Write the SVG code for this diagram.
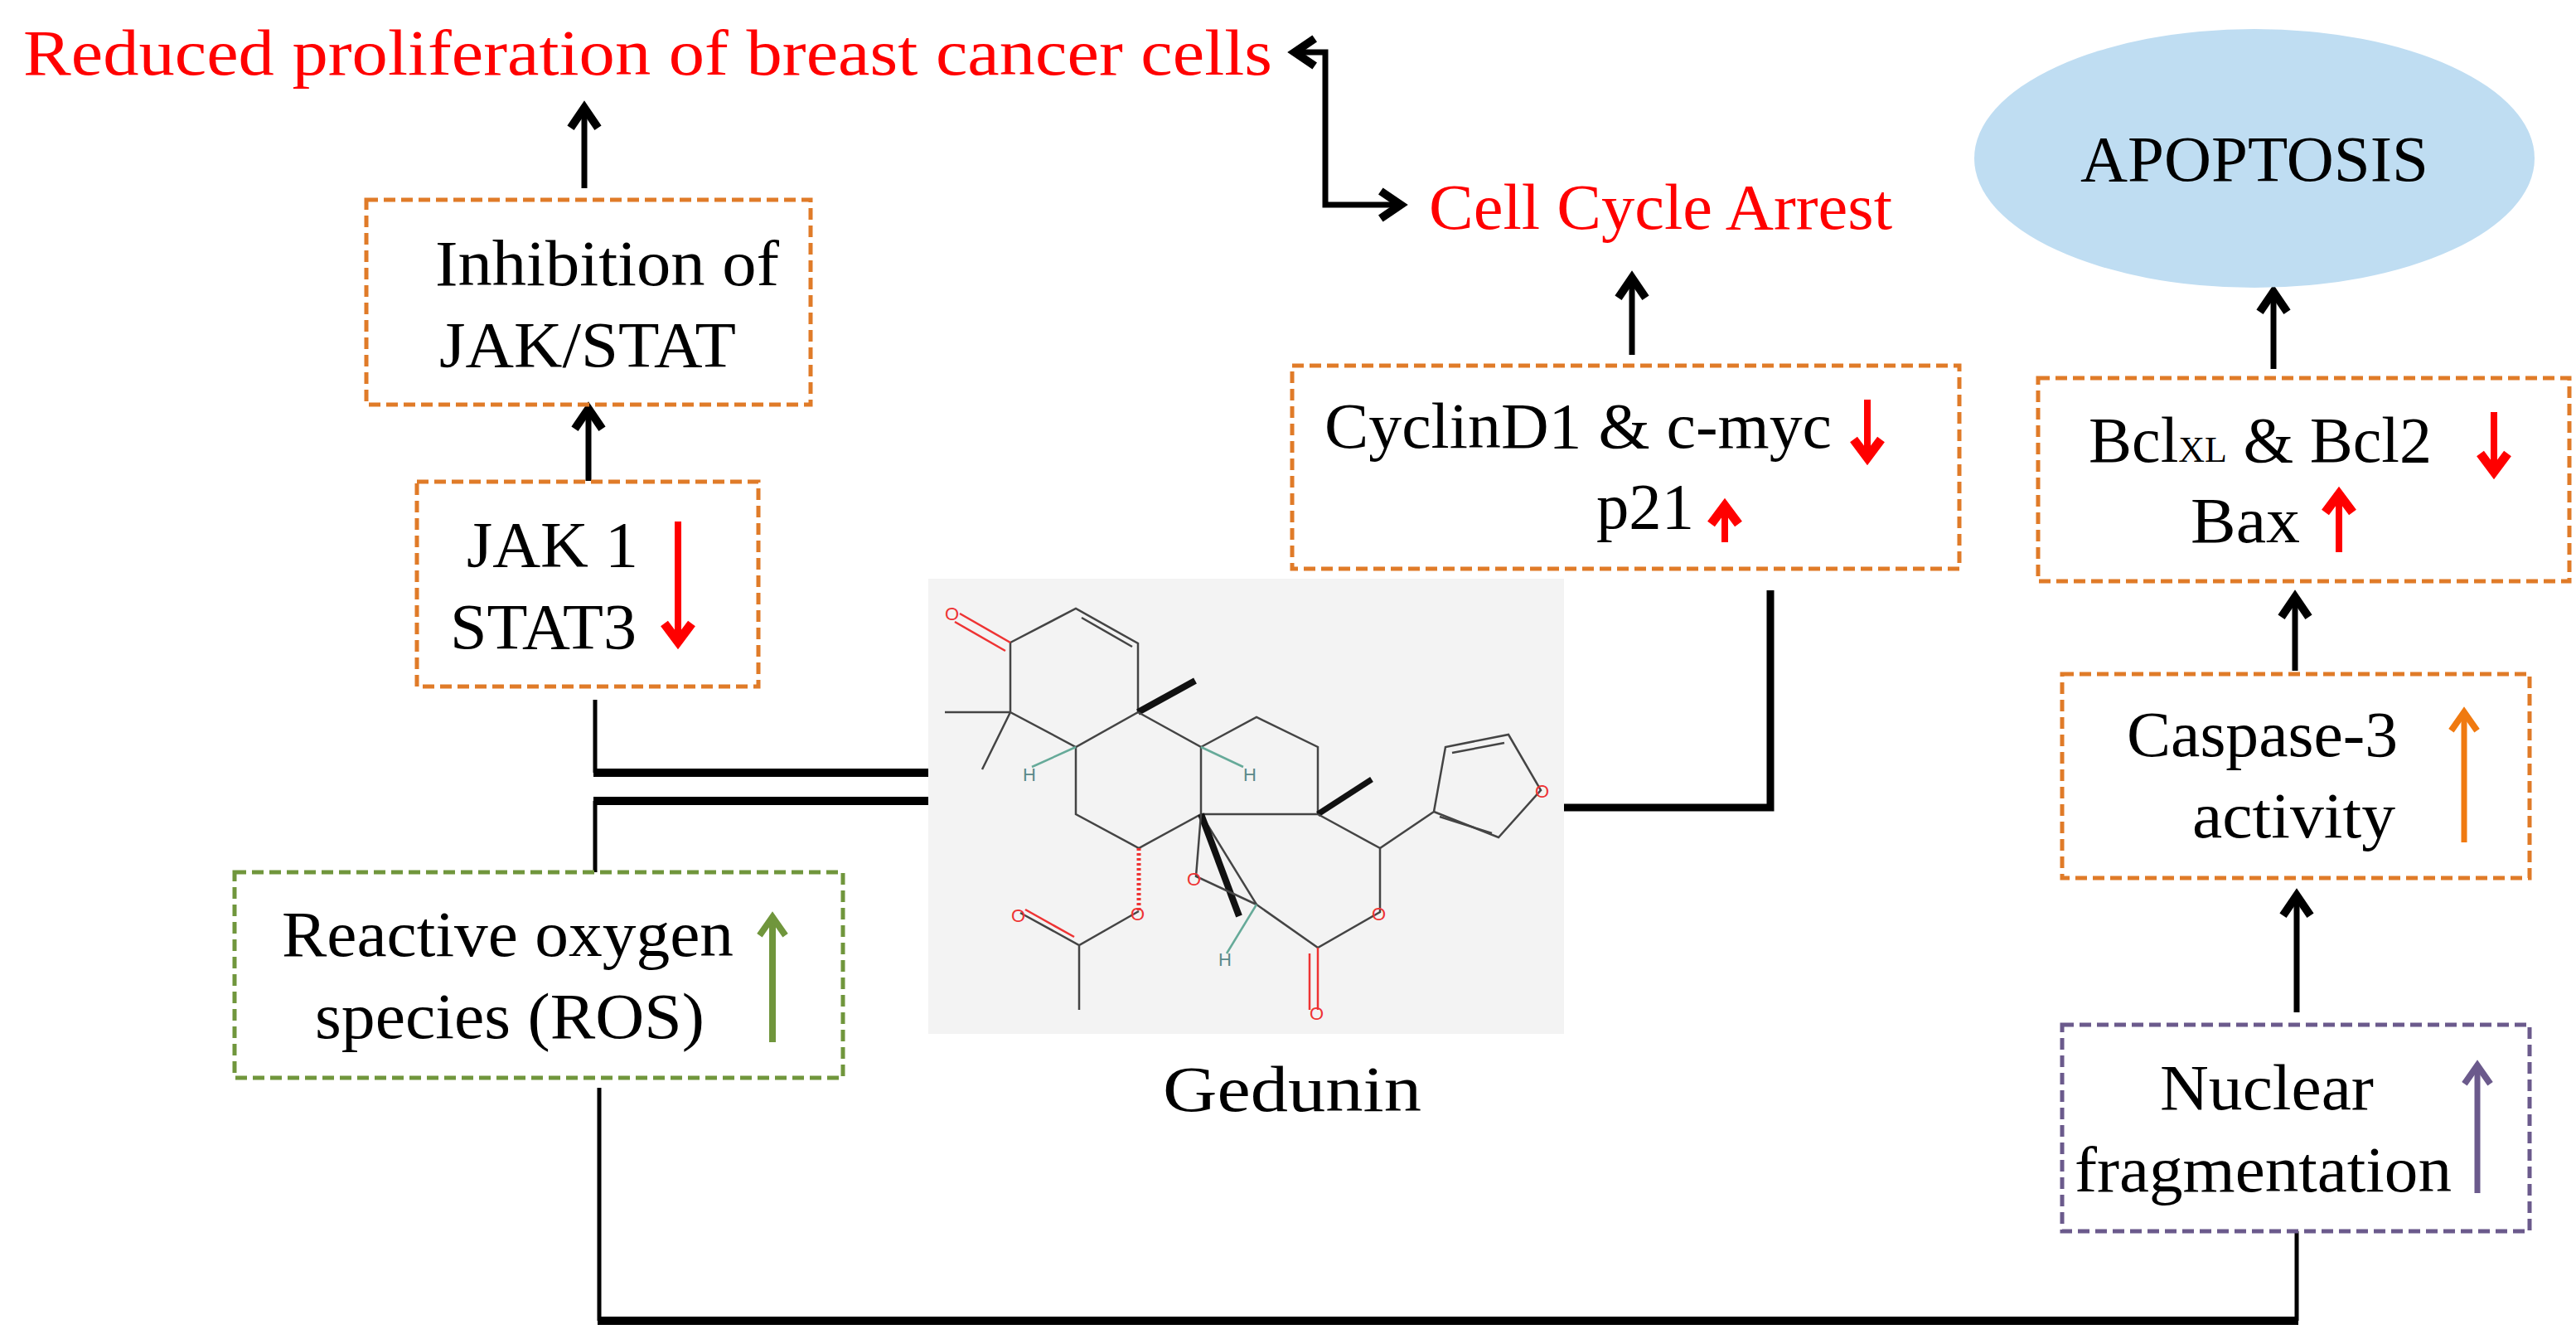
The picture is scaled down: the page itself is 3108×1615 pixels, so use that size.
<svg xmlns="http://www.w3.org/2000/svg" width="3108" height="1615" viewBox="0 0 3108 1615">
<style>
.t{font-family:"Liberation Serif","Times New Roman",serif;font-size:78px;fill:#000}
.r{fill:#f00}
.box{fill:none;stroke-width:5;stroke-dasharray:14 7}
.or{stroke:#E07B28}.gr{stroke:#70963C}.pu{stroke:#6B5A8C}
.c{fill:none;stroke:#000;stroke-width:7}
.ar{fill:none;stroke-width:8;stroke-linecap:butt}
.m{fill:none;stroke:#444;stroke-width:2.5}
.ml{font-family:"Liberation Sans",Arial,sans-serif;font-size:22px}
</style>
<defs>
<marker id="ab" markerUnits="userSpaceOnUse" markerWidth="44" markerHeight="44" viewBox="-26 -20 30 40" refX="0" refY="0" orient="auto-start-reverse"><path d="M-22,-15 L0,0 L-22,15" fill="none" stroke="#000" stroke-width="9"/></marker>
<marker id="arr" markerUnits="userSpaceOnUse" markerWidth="44" markerHeight="44" viewBox="-26 -20 30 40" refX="0" refY="0" orient="auto"><path d="M-20,-15 L0,0 L-20,15" fill="none" stroke="#f00" stroke-width="10"/></marker>
<marker id="aor" markerUnits="userSpaceOnUse" markerWidth="40" markerHeight="40" viewBox="-24 -18 28 36" refX="0" refY="0" orient="auto"><path d="M-20,-14 L0,0 L-20,14" fill="none" stroke="#F07A10" stroke-width="7"/></marker>
<marker id="agr" markerUnits="userSpaceOnUse" markerWidth="40" markerHeight="40" viewBox="-24 -18 28 36" refX="0" refY="0" orient="auto"><path d="M-20,-14 L0,0 L-20,14" fill="none" stroke="#70963C" stroke-width="7"/></marker>
<marker id="apu" markerUnits="userSpaceOnUse" markerWidth="40" markerHeight="40" viewBox="-24 -18 28 36" refX="0" refY="0" orient="auto"><path d="M-20,-14 L0,0 L-20,14" fill="none" stroke="#6B5A8C" stroke-width="7"/></marker>
</defs>
<rect width="3108" height="1615" fill="#fff"/>

<g id="connectors">
<path class="c" d="M705,227 V130" marker-end="url(#ab)"/>
<path class="c" d="M710,580 V493" marker-end="url(#ab)"/>
<path class="c" d="M1562,63 H1599 V247 H1690" marker-start="url(#ab)" marker-end="url(#ab)"/>
<path class="c" d="M1969,428 V335" marker-end="url(#ab)"/>
<path class="c" d="M2743,445 V352" marker-end="url(#ab)"/>
<path class="c" d="M2769,809 V720" marker-end="url(#ab)"/>
<path class="c" d="M2771,1221 V1080" marker-end="url(#ab)"/>
<path class="c" style="stroke-width:5" d="M718,844 V932"/>
<path class="c" style="stroke-width:10" d="M716,932 H1126"/>
<path class="c" style="stroke-width:5" d="M718,1052 V966"/>
<path class="c" style="stroke-width:10" d="M716,966 H1126"/>
<path class="c" style="stroke-width:9" d="M1887,974 H2136 V712"/>
<path class="c" style="stroke-width:5" d="M2771,1485 V1593 M723,1593 V1312"/>
<path class="c" style="stroke-width:10" d="M721,1593 H2773"/>
</g>

<g id="title"><text class="t r" x="28" y="90" font-size="75" textLength="1507" lengthAdjust="spacingAndGlyphs">Reduced proliferation of breast cancer cells</text></g>

<g id="inhibition">
<rect class="box or" x="442" y="241" width="536" height="247"/>
<text class="t" x="525" y="344" textLength="415" lengthAdjust="spacingAndGlyphs">Inhibition of</text>
<text class="t" x="530" y="442" textLength="358" lengthAdjust="spacingAndGlyphs">JAK/STAT</text>
</g>

<g id="jak">
<rect class="box or" x="503" y="581" width="412" height="247"/>
<text class="t" x="563" y="683" textLength="207" lengthAdjust="spacingAndGlyphs">JAK 1</text>
<text class="t" x="543" y="782" textLength="225" lengthAdjust="spacingAndGlyphs">STAT3</text>
<path class="ar" stroke="#f00" d="M818,629 V774" marker-end="url(#arr)"/>
</g>

<g id="ros">
<rect class="box gr" x="283" y="1052" width="734" height="248"/>
<text class="t" x="340" y="1153" textLength="545" lengthAdjust="spacingAndGlyphs">Reactive oxygen</text>
<text class="t" x="380" y="1252" textLength="470" lengthAdjust="spacingAndGlyphs">species (ROS)</text>
<path class="ar" stroke="#70963C" d="M932,1257 V1106" marker-end="url(#agr)"/>
</g>

<g id="gedunin">
<rect x="1120" y="698" width="767" height="549" fill="#f3f3f3"/>
<g class="m">
<path d="M1219,775 L1298,734 L1373,776 L1373,859 L1298,901 L1219,859 Z"/>
<path d="M1305,745 L1366,780"/>
<path d="M1219,775 L1158,740 M1213,785 L1152,750" stroke="#e33"/>
<path d="M1219,859 L1140,859 M1219,859 L1185,928"/>
<path d="M1373,859 L1442,821" stroke-width="8" stroke="#111"/>
<path d="M1298,901 L1298,982 L1374,1023 L1449,982 L1449,901 L1373,859"/>
<path d="M1449,901 L1516,865 L1590,901 L1590,982 L1449,982"/>
<path d="M1590,982 L1655,940" stroke-width="7" stroke="#111"/>
<path d="M1590,982 L1665,1023 L1665,1100 L1590,1143 L1516,1091 L1449,982"/>
<path d="M1449,982 L1495,1105" stroke-width="8" stroke="#111"/>
<path d="M1516,1091 L1443,1057 L1449,982"/>
<path d="M1590,1143 L1590,1218 M1580,1150 L1580,1218" stroke="#e33"/>
<path d="M1374,1023 L1374,1099" stroke="#e33" stroke-dasharray="3 3" stroke-width="5"/>
<path d="M1374,1099 L1302,1140 L1231,1101 M1302,1140 L1302,1218"/>
<path d="M1296,1130 L1237,1097" stroke="#e33"/>
<path d="M1665,1023 L1730,979 L1744,901 L1820,886 L1859,953 L1808,1010 L1730,979"/>
<path d="M1752,908 L1815,896 M1737,985 L1800,1005"/>
<path d="M1298,901 L1245,925 M1449,901 L1500,925 M1516,1091 L1480,1150" stroke="#6a9"/>
</g>
<g class="ml">
<text x="1140" y="748" fill="#e33">O</text>
<text x="1432" y="1068" fill="#e33">O</text>
<text x="1364" y="1110" fill="#e33">O</text>
<text x="1220" y="1112" fill="#e33">O</text>
<text x="1655" y="1110" fill="#e33">O</text>
<text x="1580" y="1230" fill="#e33">O</text>
<text x="1852" y="962" fill="#e33">O</text>
<text x="1234" y="942" fill="#5a8a8a">H</text>
<text x="1500" y="942" fill="#5a8a8a">H</text>
<text x="1470" y="1165" fill="#5a8a8a">H</text>
</g>
<text class="t" x="1403" y="1340" textLength="312" lengthAdjust="spacingAndGlyphs">Gedunin</text>
</g>

<g id="cellcycle"><text class="t r" x="1724" y="276" font-size="75" textLength="559" lengthAdjust="spacingAndGlyphs">Cell Cycle Arrest</text></g>

<g id="cyclin">
<rect class="box or" x="1559" y="441" width="805" height="245"/>
<text class="t" x="1598" y="540" textLength="612" lengthAdjust="spacingAndGlyphs">CyclinD1 &amp; c-myc</text>
<path class="ar" stroke="#f00" d="M2253,482 V552" marker-end="url(#arr)"/>
<text class="t" x="1926" y="637" textLength="118" lengthAdjust="spacingAndGlyphs">p21</text>
<path class="ar" stroke="#f00" d="M2081,654 V610" marker-end="url(#arr)"/>
</g>

<g id="apoptosis">
<ellipse cx="2720" cy="191" rx="338" ry="156" fill="#BFDDF2"/>
<text class="t" x="2510" y="218" textLength="420" lengthAdjust="spacingAndGlyphs">APOPTOSIS</text>
</g>

<g id="bcl">
<rect class="box or" x="2459" y="456" width="641" height="245"/>
<text class="t" x="2520" y="557">Bcl<tspan font-size="44">XL</tspan> &amp; Bcl2</text>
<path class="ar" stroke="#f00" d="M3009,497 V569" marker-end="url(#arr)"/>
<text class="t" x="2643" y="654" textLength="132" lengthAdjust="spacingAndGlyphs">Bax</text>
<path class="ar" stroke="#f00" d="M2822,666 V596" marker-end="url(#arr)"/>
</g>

<g id="caspase">
<rect class="box or" x="2488" y="813" width="564" height="246"/>
<text class="t" x="2566" y="912" textLength="327" lengthAdjust="spacingAndGlyphs">Caspase-3</text>
<text class="t" x="2645" y="1010" textLength="245" lengthAdjust="spacingAndGlyphs">activity</text>
<path class="ar" stroke="#F07A10" style="stroke-width:7" d="M2973,1016 V859" marker-end="url(#aor)"/>
</g>

<g id="nuclear">
<rect class="box pu" x="2488" y="1236" width="564" height="249"/>
<text class="t" x="2606" y="1338" textLength="258" lengthAdjust="spacingAndGlyphs">Nuclear</text>
<text class="t" x="2503" y="1437" textLength="455" lengthAdjust="spacingAndGlyphs">fragmentation</text>
<path class="ar" stroke="#6B5A8C" style="stroke-width:7" d="M2989,1439 V1285" marker-end="url(#apu)"/>
</g>
</svg>
